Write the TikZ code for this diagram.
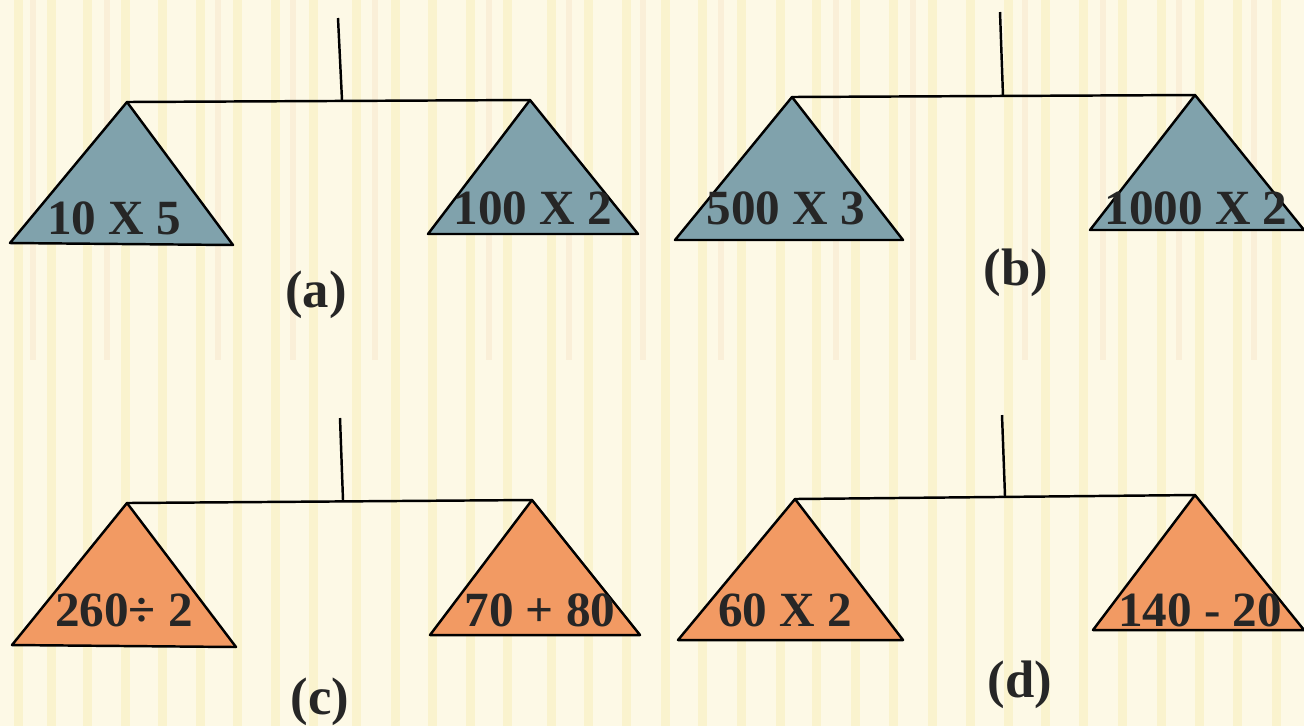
\documentclass[tikz,border=0pt]{standalone}
\usepackage{fontspec}
\setmainfont{Liberation Serif}
\usepackage{xcolor}
\usetikzlibrary{positioning, calc}
\definecolor{PanBlue}{HTML}{80A2AC}
\definecolor{PanOrange}{HTML}{F29A63}
\definecolor{Paper}{HTML}{FDF9E6}
\definecolor{PaperStripe}{HTML}{F8EFBE}
\definecolor{PaperPeach}{HTML}{F6E0C4}

\begin{document}
\begin{tikzpicture}[
    x=0.1mm, y=-0.1mm,
    beam/.style={draw=black, line width=0.7pt},
    panb/.style={fill=PanBlue, draw=black, line width=0.7pt, line join=round},
    pano/.style={fill=PanOrange, draw=black, line width=0.7pt, line join=round},
    expr/.style={font=\fontsize{14}{16}\selectfont\bfseries, text=black!85, inner sep=0pt},
    tag/.style={font=\fontsize{15}{17}\selectfont\bfseries, text=black!85, inner sep=0pt}
]
% Paper
\useasboundingbox (0,0) rectangle (1304,726);
\fill[Paper] (0,0) rectangle (1304,726);
\foreach \x in {14,47,83,121,158,196,233,271,309,352,391,428,466,503,547,584,622,661,698,737,776,812,851,889,928,966,1004,1041,1079,1118,1157,1195,1233,1272} {
    \fill[PaperStripe, opacity=0.6] (\x,0) rectangle ++(9,726);
}
\foreach \x in {30,104,215,290,372,486,566,640,718,833,910,1022,1100,1176,1251} {
    \fill[PaperPeach, opacity=0.4] (\x,0) rectangle ++(6,360);
}

% (a)
\coordinate (aTop) at (338,18);
\coordinate (aMid) at (342,100);
\coordinate (aL) at (127,102);
\coordinate (aR) at (530,100);
\draw[beam] (aTop) -- (aMid);
\draw[beam] (aL) -- (aR);
\filldraw[panb] (aL) -- (10,243) -- (233,245) -- cycle;
\filldraw[panb] (aR) -- (428,234) -- (638,234) -- cycle;
\node[expr] (aLx) at (114,218) {10 X 5};
\node[expr] (aRx) at (533,208) {100 X 2};
\node[tag] (aTag) at (316,295) {(a)};

% (b)
\coordinate (bTop) at (1000,12);
\coordinate (bMid) at (1003,96);
\coordinate (bL) at (792,97);
\coordinate (bR) at (1195,95);
\draw[beam] (bTop) -- (bMid);
\draw[beam] (bL) -- (bR);
\filldraw[panb] (bL) -- (675,240) -- (903,240) -- cycle;
\filldraw[panb] (bR) -- (1090,230) -- (1304,230) -- cycle;
\node[expr] (bLx) at (786,208) {500 X 3};
\node[expr] (bRx) at (1196,208) {1000 X 2};
\node[tag] (bTag) at (1016,273) {(b)};

% (c)
\coordinate (cTop) at (340,418);
\coordinate (cMid) at (343,500);
\coordinate (cL) at (127,503);
\coordinate (cR) at (532,500);
\draw[beam] (cTop) -- (cMid);
\draw[beam] (cL) -- (cR);
\filldraw[pano] (cL) -- (12,645) -- (236,647) -- cycle;
\filldraw[pano] (cR) -- (430,635) -- (640,635) -- cycle;
\node[expr] (cLx) at (124,610) {260÷ 2};
\node[expr] (cRx) at (540,610) {70 + 80};
\node[tag] (cTag) at (320,702) {(c)};

% (d)
\coordinate (dTop) at (1002,415);
\coordinate (dMid) at (1005,496);
\coordinate (dL) at (795,499);
\coordinate (dR) at (1195,495);
\draw[beam] (dTop) -- (dMid);
\draw[beam] (dL) -- (dR);
\filldraw[pano] (dL) -- (678,640) -- (903,640) -- cycle;
\filldraw[pano] (dR) -- (1093,630) -- (1304,630) -- cycle;
\node[expr] (dLx) at (785,610) {60 X 2};
\node[expr] (dRx) at (1200,610) {140 - 20};
\node[tag] (dTag) at (1020,685) {(d)};
\end{tikzpicture}
\end{document}
